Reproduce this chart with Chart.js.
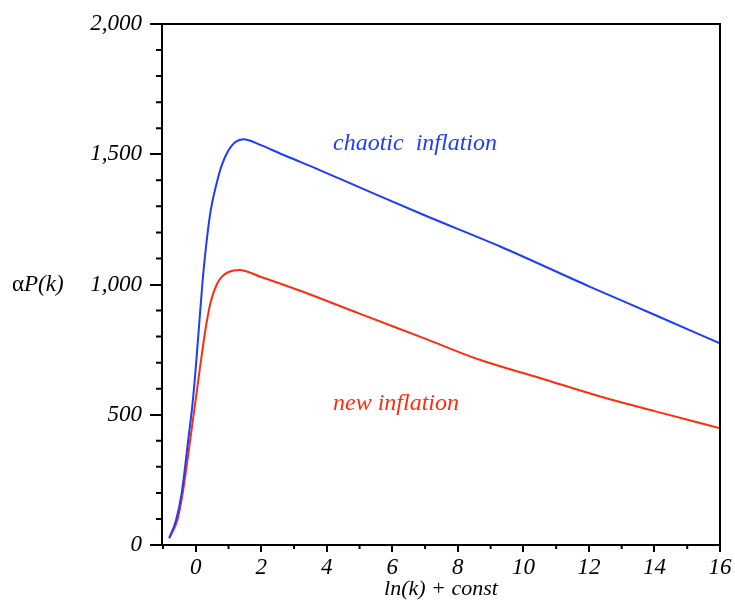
<!DOCTYPE html>
<html>
<head>
<meta charset="utf-8">
<script src="https://cdn.jsdelivr.net/npm/chart.js@4.4.1/dist/chart.umd.min.js"></script>
<style>
  html, body { margin: 0; padding: 0; background: #fff; }
  #wrap { width: 735px; height: 602px; position: relative; }
</style>
</head>
<body>
<div id="wrap"><canvas id="chart-area"></canvas></div>
<script>
// values
var chaoticX = [-0.81, -0.6, -0.43, -0.23, -0.1, 0.0, 0.1, 0.2, 0.3, 0.45, 0.64, 0.8, 1.0, 1.2, 1.46, 1.97, 2.68, 3.19, 5, 7, 9.31, 12, 14, 16];
var chaoticY = [26, 96, 198, 403, 540, 680, 840, 1000, 1130, 1280, 1390, 1460, 1515, 1546, 1558, 1536, 1497, 1471, 1373, 1265, 1145, 993, 884, 774];

var newX = [-0.81, -0.56, -0.4, -0.17, 0.0, 0.15, 0.3, 0.45, 0.64, 0.8, 1.0, 1.33, 1.97, 3.19, 5, 7, 8.69, 10.5, 12.37, 14, 16];
var newY = [26, 96, 198, 403, 560, 700, 830, 930, 1000, 1030, 1048, 1056, 1030, 976, 888, 792, 710, 641, 569, 514, 448];

var xTicks = [0, 2, 4, 6, 8, 10, 12, 14, 16];
var yTicks = [0, 500, 1000, 1500, 2000];

var blue = 'rgb(30,60,255)';
var red = 'rgb(255,45,15)';
var serif = '"Liberation Serif", "DejaVu Serif", serif';

function pairs(xs, ys) {
	return xs.map(function (x, i) { return { x: x, y: ys[i] }; });
}

// minor ticks, box, y title and curve labels
var extras = {
	id: 'extras',
	afterDraw: function (chart) {
		var ctx = chart.ctx;
		var area = chart.chartArea;
		var xs = chart.scales.x;
		var ys = chart.scales.y;
		ctx.save();
		ctx.strokeStyle = '#000';
		ctx.lineWidth = 2;
		ctx.beginPath();
		ctx.moveTo(area.left - 12, area.top);
		ctx.lineTo(area.right, area.top);
		ctx.lineTo(area.right, area.bottom);
		ctx.stroke();

		ctx.beginPath();
		for (var v = 100; v < 2000; v += 100) {
			if (v % 500 === 0) continue;
			var py = ys.getPixelForValue(v);
			ctx.moveTo(area.left - 6, py);
			ctx.lineTo(area.left, py);
		}
		for (var k = -1; k < 16; k += 2) {
			var px = xs.getPixelForValue(k);
			ctx.moveTo(px, area.bottom);
			ctx.lineTo(px, area.bottom + 4);
		}
		ctx.stroke();

		// y axis title, level with the 1,000 label
		var ty = ys.getPixelForValue(1000);
		ctx.fillStyle = '#000';
		ctx.textBaseline = 'middle';
		ctx.textAlign = 'left';
		ctx.font = '23px ' + serif;
		ctx.fillText('\u03b1', 12, ty);
		var w = ctx.measureText('\u03b1').width;
		ctx.font = 'italic 23px ' + serif;
		ctx.fillText('P(k)', 12 + w, ty);

		ctx.textBaseline = 'alphabetic';
		ctx.font = 'italic 24px ' + serif;
		ctx.fillStyle = blue;
		ctx.fillText('chaotic  inflation', xs.getPixelForValue(4.19), ys.getPixelForValue(1516));
		ctx.fillStyle = red;
		ctx.fillText('new inflation', xs.getPixelForValue(4.19), ys.getPixelForValue(518));
		ctx.restore();
	}
};

var config = {
	type: 'scatter',
	data: {
		datasets: [{
			label: 'chaotic inflation',
			data: pairs(chaoticX, chaoticY),
			showLine: true,
			borderColor: blue,
			borderWidth: 2,
			pointRadius: 0,
			cubicInterpolationMode: 'monotone'
		}, {
			label: 'new inflation',
			data: pairs(newX, newY),
			showLine: true,
			borderColor: red,
			borderWidth: 2,
			pointRadius: 0,
			cubicInterpolationMode: 'monotone'
		}]
	},
	options: {
		responsive: true,
		maintainAspectRatio: false,
		animation: false,
		layout: { padding: { top: 24, right: 15, left: 0, bottom: 0 } },
		plugins: {
			legend: { display: false },
			tooltip: { enabled: false }
		},
		scales: {
			x: {
				type: 'linear',
				min: -1.03,
				max: 16,
				afterBuildTicks: function (scale) {
					scale.ticks = xTicks.map(function (v) { return { value: v }; });
				},
				afterFit: function (scale) { scale.height = 57; },
				grid: { drawOnChartArea: false, drawTicks: true, tickLength: 7, color: '#000', lineWidth: 2 },
				border: { display: true, color: '#000', width: 2 },
				ticks: { color: '#000', font: { family: serif, style: 'italic', size: 23 }, padding: 2, maxRotation: 0 },
				title: { display: true, text: 'ln(k) + const', color: '#000', font: { family: serif, style: 'italic', size: 22 }, padding: { top: 0, bottom: 0 } }
			},
			y: {
				min: 0,
				max: 2000,
				afterBuildTicks: function (scale) {
					scale.ticks = yTicks.map(function (v) { return { value: v }; });
				},
				afterFit: function (scale) { scale.width = 162; },
				grid: { drawOnChartArea: false, drawTicks: true, tickLength: 12, color: '#000', lineWidth: 2 },
				border: { display: true, color: '#000', width: 2 },
				ticks: { color: '#000', font: { family: serif, style: 'italic', size: 23 }, padding: 8 }
			}
		}
	},
	plugins: [extras]
};

var ctx = document.getElementById('chart-area').getContext('2d');
var myChart = new Chart(ctx, config);
</script>
</body>
</html>
